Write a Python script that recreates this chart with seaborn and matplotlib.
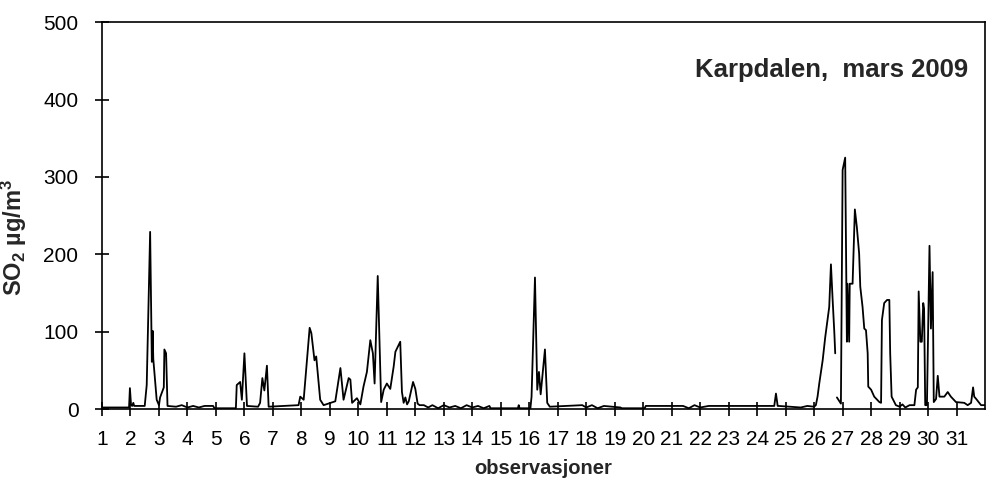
import numpy as np
import pandas as pd
import matplotlib
matplotlib.use("Agg")
import matplotlib.pyplot as plt
import seaborn as sns

# hourly SO2 at Karpdalen, March 2009 (x in days; NaN = missing hours)
day = [1.00, 1.95, 1.98, 2.02, 2.06, 2.10, 2.13, 2.50, 2.57, 2.69, 2.75, 2.78, 2.80, 2.92,
       3.00, 3.04, 3.17, 3.19, 3.25, 3.30, 3.60, 3.80, 4.00, 4.20, 4.40, 4.60, 4.90, 4.95,
       5.70, 5.73, 5.85, 5.91, 6.00, 6.09, 6.48, 6.55, 6.63, 6.70, 6.79, 6.85, 7.90, 7.96,
       8.08, 8.29, 8.35, 8.46, 8.52, 8.66, 8.78, 9.19, 9.37, 9.48, 9.66, 9.72, 9.78, 9.95,
       10.07, 10.18, 10.30, 10.42, 10.51, 10.57, 10.68, 10.80, 10.89, 11.00, 11.12, 11.24,
       11.30, 11.47, 11.53, 11.59, 11.65, 11.71, 11.77, 11.92, 12.00, 12.08, 12.15, 12.30,
       12.45, 12.60, 12.80, 13.00, 13.20, 13.40, 13.60, 13.80, 14.00, 14.20, 14.40, 14.60,
       14.64, 15.60, 15.63, 15.66, 16.04, 16.08, 16.20, 16.28, 16.34, 16.40, 16.55, 16.63,
       16.72, 17.86, 18.00, 18.20, 18.40, 18.62, 19.20, 19.25, 20.05, 20.09, 21.40, 21.60,
       21.80, 22.00, 22.30, 23.00, 23.50, 24.60, 24.66, 24.72, 24.76, 25.53, 25.76, 26.00,
       26.06, 26.12, 26.18, 26.30, 26.39, 26.47, 26.53, 26.59, 26.65, 26.71, 26.74, 26.77,
       26.80, 26.94, 27.00, 27.09, 27.15, 27.17, 27.23, 27.25, 27.35, 27.43, 27.50, 27.58,
       27.62, 27.70, 27.76, 27.82, 27.88, 27.90, 28.00, 28.11, 28.29, 28.35, 28.38, 28.46,
       28.56, 28.64, 28.67, 28.72, 28.87, 29.00, 29.10, 29.20, 29.35, 29.52, 29.58, 29.64,
       29.67, 29.73, 29.78, 29.83, 29.86, 29.90, 29.96, 30.05, 30.10, 30.16, 30.20, 30.28,
       30.34, 30.40, 30.57, 30.69, 30.80, 30.98, 31.27, 31.39, 31.51, 31.58, 31.62, 31.69,
       31.86, 32.00]
so2 = [2, 2, 27, 5, 4, 8, 4, 4, 31, 229, 61, 101, 65, 12,
       5, 15, 28, 77, 72, 4, 3, 5, 2, 4, 2, 4, 4, 1,
       1, 31, 35, 12, 72, 4, 3, 8, 40, 24, 56, 3, 5, 16,
       12, 105, 98, 63, 68, 12, 5, 10, 53, 12, 40, 38, 8, 14,
       6, 29, 48, 89, 72, 33, 172, 9, 25, 33, 26, 55,
       74, 87, 22, 8, 15, 6, 10, 35, 26, 7, 5, 5,
       2, 5, 1, 5, 2, 4, 1, 5, 2, 4, 1, 4,
       1, 1, 5, 1, 1, 16, 170, 25, 48, 19, 77, 8,
       3, 5, 2, 5, 1, 4, 2, 1, 1, 4, 4, 1,
       5, 2, 4, 4, 4, 4, 20, 4, 4, 2, 4, 3,
       5, 16, 33, 63, 93, 115, 132, 187, 141, 98, 72, np.nan,
       15, 7, 309, 325, 87, 162, 87, 162, 162, 258, 235, 201,
       158, 132, 104, 102, 72, 29, 25, 16, 9, 8, 115, 137,
       141, 141, 72, 16, 5, 3, 6, 2, 5, 5, 25, 28,
       152, 87, 87, 137, 130, 5, 5, 211, 104, 177, 9, 13,
       43, 16, 16, 22, 16, 9, 8, 5, 8, 28, 16, 13,
       5, 5]

day_ticks = list(range(1, 32))

df = pd.DataFrame({"dag": day, "so2": so2})
df["seg"] = df["so2"].isna().cumsum()
df = df.dropna()

sns.set_style("ticks")
plt.rcParams["font.family"] = ["Liberation Sans", "DejaVu Sans"]
plt.rcParams["mathtext.fontset"] = "custom"
plt.rcParams["mathtext.bf"] = "Liberation Sans:bold"
plt.rcParams["mathtext.default"] = "bf"

fig = plt.figure(figsize=(9.96, 4.94), dpi=100)
ax = fig.add_axes([0.1024, 0.172, 0.8866, 0.783])

sns.lineplot(data=df, x="dag", y="so2", units="seg", estimator=None,
             color="black", linewidth=1.3, ax=ax, legend=False)

ax.set_xlim(1, 32)
ax.set_ylim(0, 500)
ax.set_xticks(day_ticks)
ax.set_xticklabels([str(d) for d in day_ticks])
ax.set_yticks(range(0, 501, 100))
ax.tick_params(axis="both", direction="inout", length=10, width=1.2,
               labelsize=15, colors="black")
ax.tick_params(axis="x", pad=10)
ax.tick_params(axis="y", pad=12)
for s in ax.spines.values():
    s.set_linewidth(1.2)
    s.set_color("black")
    s.set_visible(True)

ax.set_xlabel("observasjoner", fontsize=14.5, fontweight="bold", labelpad=7)
ax.set_ylabel("SO$_2$ µg/m$^3$", fontsize=17, fontweight="bold")
ax.yaxis.set_label_coords(-0.083, 0.444)
ax.text(0.981, 0.876, "Karpdalen,  mars 2009", transform=ax.transAxes,
        ha="right", va="center", fontsize=18.5, fontweight="bold")

fig.savefig("out.png", dpi=100)
